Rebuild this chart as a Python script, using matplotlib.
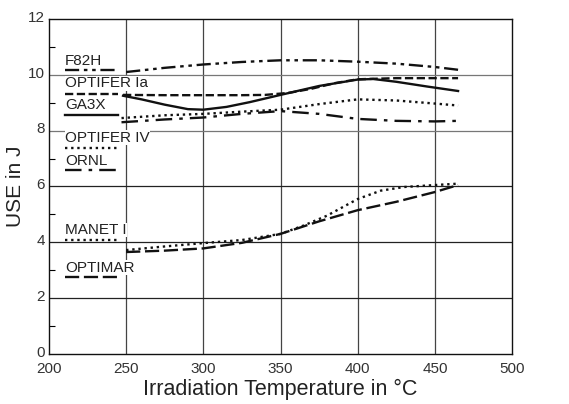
import matplotlib
matplotlib.use("Agg")
import matplotlib.pyplot as plt
import matplotlib.transforms as mtransforms

plt.rcParams['font.family'] = ['Liberation Sans', 'DejaVu Sans']

# curves (temperature in C, USE in J)
f82h_t = [250, 275, 300, 325, 350, 375, 400, 425, 450, 465]
f82h_e = [10.1, 10.25, 10.37, 10.46, 10.52, 10.52, 10.47, 10.4, 10.28, 10.18]

optia_t = [248, 275, 300, 325, 340, 355, 370, 385, 400, 425, 465]
optia_e = [9.28, 9.27, 9.27, 9.27, 9.28, 9.35, 9.5, 9.7, 9.84, 9.88, 9.88]

ga3x_t = [248, 260, 275, 290, 300, 315, 330, 350, 375, 400, 410, 425, 445, 465]
ga3x_e = [9.25, 9.12, 8.93, 8.77, 8.75, 8.85, 9.02, 9.28, 9.6, 9.83, 9.85, 9.75, 9.58, 9.42]

optiv_t = [247, 275, 300, 325, 350, 375, 400, 425, 450, 465]
optiv_e = [8.45, 8.55, 8.6, 8.68, 8.75, 8.95, 9.12, 9.08, 8.97, 8.9]

ornl_t = [247, 275, 300, 325, 350, 375, 400, 425, 450, 465]
ornl_e = [8.3, 8.4, 8.47, 8.6, 8.7, 8.6, 8.42, 8.35, 8.33, 8.35]

manet_t = [250, 275, 300, 325, 350, 365, 380, 400, 415, 430, 450, 465]
manet_e = [3.72, 3.85, 3.97, 4.08, 4.3, 4.6, 4.95, 5.55, 5.85, 5.98, 6.05, 6.1]

optimar_t = [250, 275, 300, 325, 350, 375, 400, 425, 450, 465]
optimar_e = [3.65, 3.7, 3.78, 3.98, 4.3, 4.75, 5.15, 5.45, 5.8, 6.05]

names = ["F82H", "OPTIFER Ia", "GA3X", "OPTIFER IV", "ORNL", "MANET I", "OPTIMAR"]
label_y = [10.5, 9.7, 8.92, 7.74, 6.92, 4.44, 3.08]
sample_y = [10.18, 9.32, 8.57, 7.38, 6.6, 4.09, 2.76]

series = [(f82h_t, f82h_e), (optia_t, optia_e), (ga3x_t, ga3x_e), (optiv_t, optiv_e),
          (ornl_t, ornl_e), (manet_t, manet_e), (optimar_t, optimar_e)]
styles = [(0, (6, 2, 1.5, 2, 1.5, 2)), (0, (3.5, 1.5)), '-', (0, (1, 1.6)),
          (0, (7, 3, 1.5, 3)), (0, (1, 1.6)), (0, (6, 2))]

fig = plt.figure(figsize=(5.69, 4.04), dpi=100)
ax = fig.add_axes([0.086, 0.124, 0.814, 0.829])

for v in [250, 300, 350, 400, 450]:
    ax.axvline(v, color='#444444', lw=0.9, zorder=1)
for v in [2, 4, 6]:
    ax.axhline(v, color='#222222', lw=0.9, zorder=1)
for v in [8, 10]:
    ax.axhline(v, color='#777777', lw=0.9, zorder=1)

for (t, e), ls in zip(series, styles):
    ax.plot(t, e, color='#111111', lw=1.7, linestyle=ls, zorder=3)

for name, ly, sy, ls in zip(names, label_y, sample_y, styles):
    ax.text(210.5, ly, name, fontsize=11, color='#222222', va='center', ha='left',
            zorder=4, bbox=dict(facecolor='white', edgecolor='none', pad=0.3))
    ax.plot([210.5, 245], [sy, sy], color='#111111', lw=1.7, linestyle=ls, zorder=5)

ax.set_xlim(200, 500)
ax.set_ylim(0, 12)
ax.set_xticks([200, 250, 300, 350, 400, 450, 500])
ax.set_yticks([0, 2, 4, 6, 8, 10, 12])
ax.set_yticks([1, 3, 5, 7, 9, 11], minor=True)
ax.tick_params(axis='both', which='major', length=0, labelsize=11, labelcolor='#333333')
ax.tick_params(axis='y', which='minor', direction='in', length=4, width=0.8)
ax.tick_params(axis='x', pad=6)
ax.tick_params(axis='y', pad=3)
# y labels sit a little above their lines in the reference
shift = mtransforms.ScaledTranslation(0, 2 / 72, fig.dpi_scale_trans)
for lab in ax.get_yticklabels():
    lab.set_transform(lab.get_transform() + shift)
for s in ax.spines.values():
    s.set_linewidth(1.0)
    s.set_color('#111111')

ax.set_xlabel("Irradiation Temperature in °C", fontsize=15.5, color='#222222', labelpad=2)
ax.set_ylabel("USE in J", fontsize=15, color='#222222', labelpad=2)

fig.savefig("out.png", dpi=100)
